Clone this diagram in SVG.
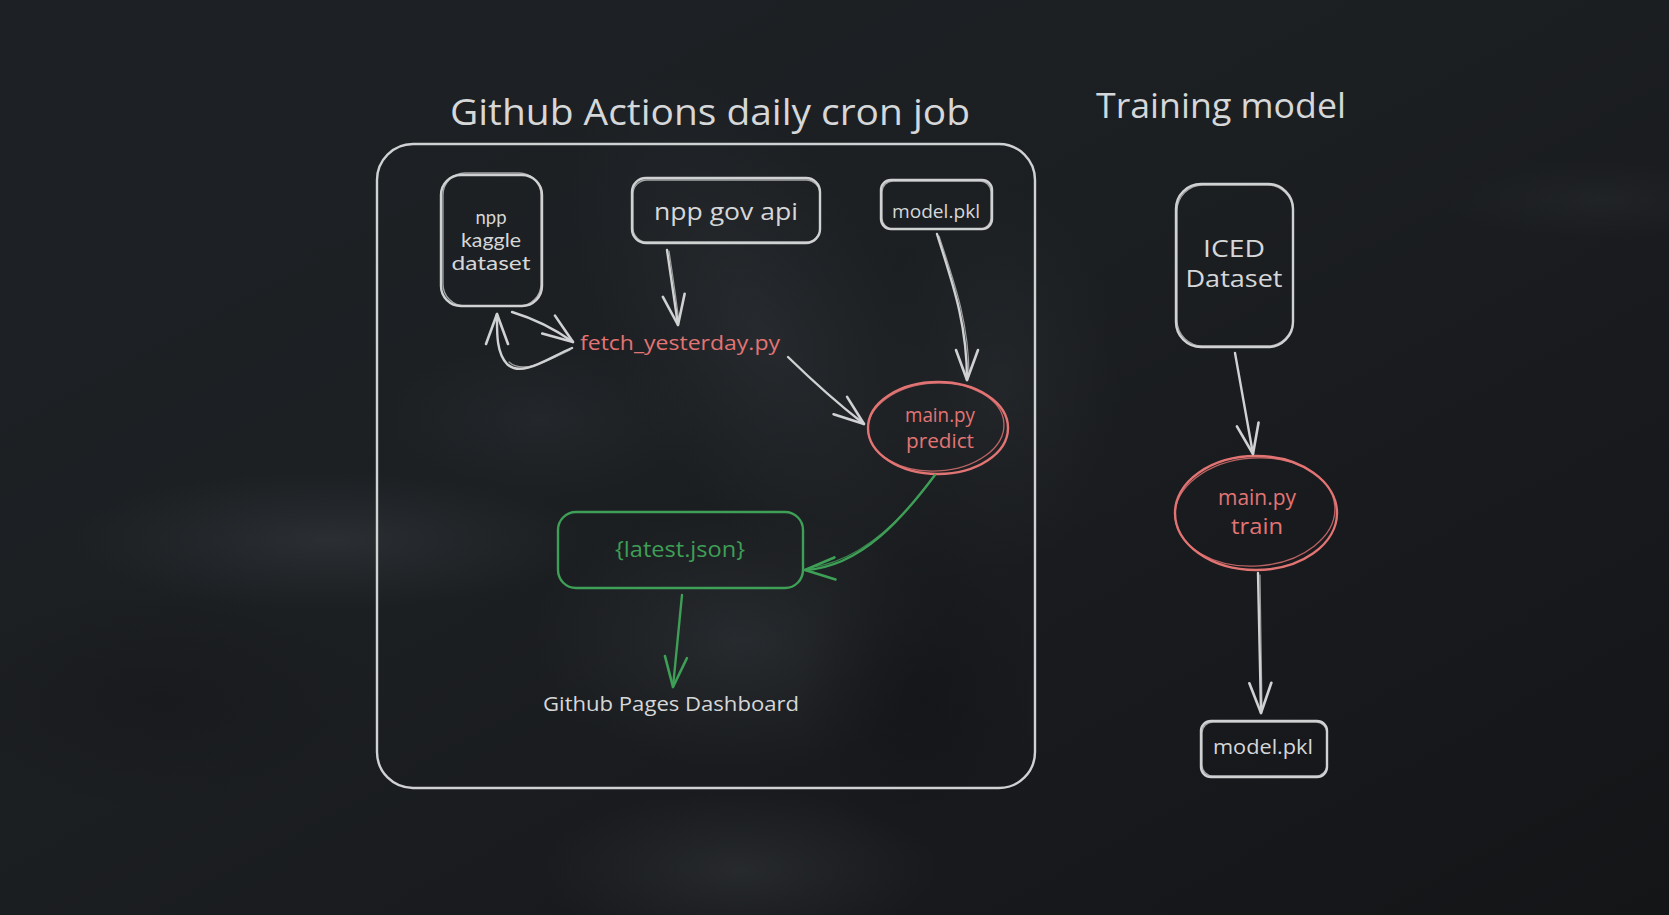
<svg xmlns="http://www.w3.org/2000/svg" width="1669" height="915" viewBox="0 0 1669 915">
  <defs>
    <linearGradient id="bgGrad" x1="0" y1="0" x2="1" y2="1">
      <stop offset="0" stop-color="#1d2125"/>
      <stop offset="0.45" stop-color="#1c1f22"/>
      <stop offset="0.75" stop-color="#17191c"/>
      <stop offset="1" stop-color="#141517"/>
    </linearGradient>
    <radialGradient id="smoke" cx="0.5" cy="0.5" r="0.5">
      <stop offset="0" stop-color="#2e3135" stop-opacity="0.85"/>
      <stop offset="0.5" stop-color="#2b2e32" stop-opacity="0.45"/>
      <stop offset="1" stop-color="#2a2d31" stop-opacity="0"/>
    </radialGradient>
    <radialGradient id="shade" cx="0.5" cy="0.5" r="0.5">
      <stop offset="0" stop-color="#141518" stop-opacity="0.8"/>
      <stop offset="1" stop-color="#141518" stop-opacity="0"/>
    </radialGradient>
    <marker id="arrowGray" viewBox="0 0 34 26" refX="32" refY="13" markerWidth="34" markerHeight="26" markerUnits="userSpaceOnUse" orient="auto">
      <path d="M2,2 L32,13 L2,24" fill="none" stroke="#d0d1d2" stroke-width="2.6" stroke-linecap="round" stroke-linejoin="round"/>
    </marker>
    <marker id="arrowGreen" viewBox="0 0 34 26" refX="32" refY="13" markerWidth="34" markerHeight="26" markerUnits="userSpaceOnUse" orient="auto">
      <path d="M2,2 L32,13 L2,24" fill="none" stroke="#3e9f56" stroke-width="2.6" stroke-linecap="round" stroke-linejoin="round"/>
    </marker>
  </defs>
  <style>
    .box { fill: none; stroke: #d0d1d2; stroke-width: 2.4; }
    .sketch { fill: none; stroke: #d0d1d2; stroke-width: 1.3; opacity: 0.75; }
    .redE { fill: none; stroke: #e37474; stroke-width: 2.4; }
    .redS { fill: none; stroke: #e37474; stroke-width: 1.3; opacity: 0.8; }
    .greenBox { fill: none; stroke: #3e9f56; stroke-width: 2.4; }
    .conn { fill: none; stroke: #d0d1d2; stroke-width: 2.4; stroke-linecap: round; marker-end: url(#arrowGray); }
    .connS { fill: none; stroke: #d0d1d2; stroke-width: 1.2; stroke-linecap: round; opacity: 0.7; }
    .connG { fill: none; stroke: #3e9f56; stroke-width: 2.4; stroke-linecap: round; marker-end: url(#arrowGreen); }
    .connGS { fill: none; stroke: #3e9f56; stroke-width: 1.2; stroke-linecap: round; opacity: 0.8; }
    text { font-family: "Open Sans", "Noto Sans", sans-serif; text-anchor: middle; }
    .small { font-family: "Lato", "Open Sans", sans-serif; }
    .t { fill: #d6d7d8; }
    .r { fill: #e37474; }
    .g { fill: #3e9f56; }
  </style>

  <g id="background">
    <rect x="0" y="0" width="1669" height="915" fill="url(#bgGrad)"/>
    <ellipse cx="330" cy="540" rx="260" ry="70" fill="url(#smoke)"/>
    <ellipse cx="760" cy="330" rx="150" ry="280" fill="url(#smoke)" opacity="0.7" transform="rotate(-30 760 330)"/>
    <ellipse cx="740" cy="640" rx="210" ry="130" fill="url(#smoke)" opacity="0.8"/>
    <ellipse cx="740" cy="870" rx="200" ry="80" fill="url(#smoke)" opacity="0.8"/>
    <ellipse cx="1000" cy="380" rx="120" ry="190" fill="url(#smoke)" opacity="0.5"/>
    <ellipse cx="540" cy="420" rx="160" ry="80" fill="url(#smoke)" opacity="0.5"/>
    <ellipse cx="1600" cy="200" rx="160" ry="40" fill="url(#smoke)" opacity="0.4"/>
    <ellipse cx="920" cy="700" rx="120" ry="160" fill="url(#shade)"/>
    <ellipse cx="160" cy="700" rx="220" ry="110" fill="url(#shade)" opacity="0.6"/>
  </g>

  <g id="title-actions">
    <text class="t" x="710" y="125" font-size="36" textLength="520" lengthAdjust="spacingAndGlyphs">Github Actions daily cron job</text>
  </g>
  <g id="title-training">
    <text class="t" x="1221" y="118" font-size="34" textLength="250" lengthAdjust="spacingAndGlyphs">Training model</text>
  </g>

  <g id="actions-frame">
    <rect class="box" x="377" y="144" width="658" height="644" rx="36"/>
  </g>

  <g id="npp-kaggle-dataset">
    <rect class="box" x="441" y="175" width="101" height="131" rx="20"/>
    <rect class="sketch" x="443" y="173" width="98" height="133" rx="22"/>
    <text class="t small" x="491" y="224" font-size="19" textLength="31" lengthAdjust="spacingAndGlyphs">npp</text>
    <text class="t small" x="491" y="247" font-size="19" textLength="60" lengthAdjust="spacingAndGlyphs">kaggle</text>
    <text class="t small" x="491" y="270" font-size="19" textLength="79" lengthAdjust="spacingAndGlyphs">dataset</text>
  </g>

  <g id="npp-gov-api">
    <rect class="box" x="632" y="178" width="188" height="65" rx="14"/>
    <rect class="sketch" x="633" y="180" width="187" height="62" rx="14"/>
    <text class="t" x="726" y="220" font-size="24" textLength="144" lengthAdjust="spacingAndGlyphs">npp gov api</text>
  </g>

  <g id="model-pkl-top">
    <rect class="box" x="881" y="180" width="111" height="49" rx="10"/>
    <rect class="sketch" x="882" y="181" width="109" height="48" rx="11"/>
    <text class="t" x="936" y="218" font-size="19" textLength="88" lengthAdjust="spacingAndGlyphs">model.pkl</text>
  </g>

  <g id="fetch-yesterday">
    <text class="r" x="680" y="350" font-size="20" textLength="200" lengthAdjust="spacingAndGlyphs">fetch_yesterday.py</text>
  </g>

  <g id="main-predict">
    <ellipse class="redE" cx="938" cy="428" rx="70" ry="46"/>
    <ellipse class="redS" cx="936" cy="427" rx="68" ry="44" transform="rotate(-3 936 427)"/>
    <text class="r" x="940" y="422" font-size="20" textLength="70" lengthAdjust="spacingAndGlyphs">main.py</text>
    <text class="r" x="940" y="448" font-size="20" textLength="68" lengthAdjust="spacingAndGlyphs">predict</text>
  </g>

  <g id="latest-json">
    <rect class="greenBox" x="558" y="512" width="245" height="76" rx="18"/>
    <text class="g" x="680" y="557" font-size="21" textLength="130" lengthAdjust="spacingAndGlyphs">{latest.json}</text>
  </g>

  <g id="github-pages">
    <text class="t" x="671" y="711" font-size="20" textLength="256" lengthAdjust="spacingAndGlyphs">Github Pages Dashboard</text>
  </g>

  <g id="iced-dataset">
    <rect class="box" x="1176" y="184" width="117" height="163" rx="25"/>
    <rect class="sketch" x="1177" y="185" width="116" height="161" rx="26"/>
    <text class="t" x="1234" y="257" font-size="24" textLength="62" lengthAdjust="spacingAndGlyphs">ICED</text>
    <text class="t" x="1234" y="287" font-size="24" textLength="97" lengthAdjust="spacingAndGlyphs">Dataset</text>
  </g>

  <g id="main-train">
    <ellipse class="redE" cx="1256" cy="513" rx="81" ry="57"/>
    <ellipse class="redS" cx="1255" cy="512" rx="80" ry="54" transform="rotate(-4 1255 512)"/>
    <text class="r" x="1257" y="505" font-size="22" textLength="78" lengthAdjust="spacingAndGlyphs">main.py</text>
    <text class="r" x="1257" y="534" font-size="22" textLength="52" lengthAdjust="spacingAndGlyphs">train</text>
  </g>

  <g id="model-pkl-bottom">
    <rect class="box" x="1201" y="721" width="126" height="56" rx="10"/>
    <rect class="sketch" x="1202" y="722" width="125" height="54" rx="11"/>
    <text class="t" x="1263" y="754" font-size="20" textLength="100" lengthAdjust="spacingAndGlyphs">model.pkl</text>
  </g>

  <g id="connectors">
    <path class="conn" d="M667,250 Q673,290 678,325"/>
    <path class="connS" d="M669,251 Q675,290 679,322"/>

    <path class="conn" d="M572,348 C548,358 522,378 507,364 C496,352 497,332 497,314"/>
    <path class="connS" d="M570,350 C546,362 522,374 509,362"/>

    <path class="conn" d="M512,312 Q545,322 573,342"/>

    <path class="conn" d="M788,357 Q828,396 864,424"/>

    <path class="conn" d="M937,234 C952,282 967,322 967,380"/>
    <path class="connS" d="M939,236 C955,284 969,324 969,376"/>

    <path class="connG" d="M935,475 C905,515 862,567 805,570"/>
    <path class="connGS" d="M933,477 C902,520 860,562 808,568"/>

    <path class="connG" d="M682,595 L673,687"/>

    <path class="conn" d="M1235,353 L1253,454"/>

    <path class="conn" d="M1258,573 L1261,713"/>
    <path class="connS" d="M1260,575 L1262,708"/>
  </g>
</svg>
